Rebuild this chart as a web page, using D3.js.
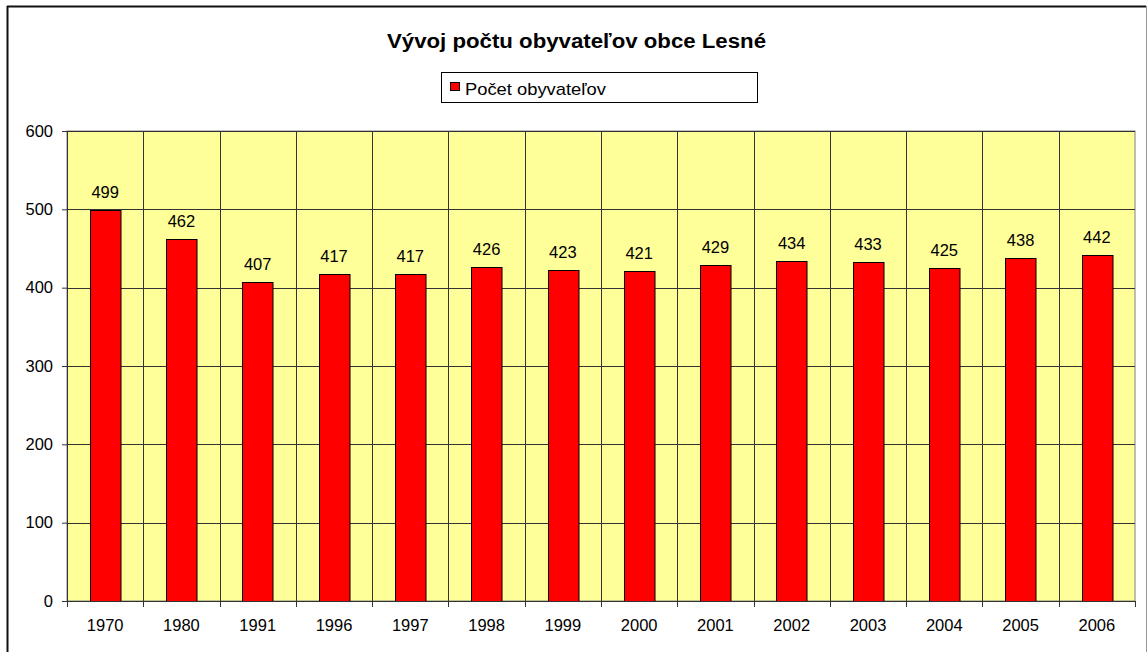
<!DOCTYPE html>
<html>
<head>
<meta charset="utf-8">
<script src="https://cdn.jsdelivr.net/npm/d3@7"></script>
<style>
  body { margin: 0; background: #fff; }
  text { font-family: "Liberation Sans", Arial, sans-serif; fill: #000; }
</style>
</head>
<body>
<div id="chart"></div>
<script>
var years = ["1970", "1980", "1991", "1996", "1997", "1998", "1999", "2000", "2001", "2002", "2003", "2004", "2005", "2006"];
var population = [499, 462, 407, 417, 417, 426, 423, 421, 429, 434, 433, 425, 438, 442];
var yTicks = [0, 100, 200, 300, 400, 500, 600];
var title = "Vývoj počtu obyvateľov obce Lesné";
var seriesName = "Počet obyvateľov";

var width = 1147, height = 652;
var plot = { left: 67, right: 1135, top: 131, bottom: 601 };

var svg = d3.select("#chart").append("svg")
    .attr("width", width)
    .attr("height", height);

// chart frame
svg.append("line").attr("x1", 7).attr("x2", 1146).attr("y1", 6.5).attr("y2", 6.5)
    .attr("stroke", "#111").attr("stroke-width", 2);
svg.append("line").attr("x1", 7.5).attr("x2", 7.5).attr("y1", 6).attr("y2", 652)
    .attr("stroke", "#111").attr("stroke-width", 2);
svg.append("line").attr("x1", 1146.5).attr("x2", 1146.5).attr("y1", 6).attr("y2", 652)
    .attr("stroke", "#999").attr("stroke-width", 1);

var x = d3.scaleBand()
    .domain(years)
    .range([plot.left, plot.right])
    .paddingInner(0.6)
    .paddingOuter(0.3);

var xCat = d3.scaleBand()
    .domain(years)
    .range([plot.left, plot.right]);

var y = d3.scaleLinear()
    .domain([0, 600])
    .range([plot.bottom, plot.top]);

// plot background
svg.append("rect")
    .attr("x", plot.left).attr("y", plot.top)
    .attr("width", plot.right - plot.left)
    .attr("height", plot.bottom - plot.top)
    .attr("fill", "#ffff99")
    .attr("stroke", "#808080");

// horizontal gridlines
svg.append("g").selectAll("line")
    .data(yTicks.slice(1))
    .join("line")
    .attr("x1", plot.left).attr("x2", plot.right)
    .attr("y1", d => Math.round(y(d)) + 0.5)
    .attr("y2", d => Math.round(y(d)) + 0.5)
    .attr("stroke", "#333");

// vertical gridlines between categories
svg.append("g").selectAll("line")
    .data(years.slice(1))
    .join("line")
    .attr("x1", d => Math.round(xCat(d)) + 0.5)
    .attr("x2", d => Math.round(xCat(d)) + 0.5)
    .attr("y1", plot.top).attr("y2", plot.bottom)
    .attr("stroke", "#333");

// bars
svg.append("g").selectAll("rect")
    .data(population)
    .join("rect")
    .attr("x", (d, i) => Math.round(x(years[i])) + 0.5)
    .attr("y", d => Math.round(y(d)) + 0.5)
    .attr("width", x.bandwidth())
    .attr("height", d => Math.round(y(0)) - Math.round(y(d)))
    .attr("fill", "#ff0000")
    .attr("stroke", "#000")
    .attr("stroke-width", 1);

// data labels
svg.append("g").selectAll("text")
    .data(population)
    .join("text")
    .attr("x", (d, i) => x(years[i]) + x.bandwidth() / 2)
    .attr("y", d => y(d) - 12)
    .attr("text-anchor", "middle")
    .style("font-size", "16.5px")
    .text(d => d);

// y axis
var yAxis = svg.append("g")
    .attr("transform", `translate(${plot.left},0)`)
    .call(d3.axisLeft(y).tickValues(yTicks).tickSize(5).tickPadding(9));
yAxis.select(".domain").attr("stroke", "#333");
yAxis.selectAll(".tick line").attr("stroke", "#333");
yAxis.selectAll("text").style("font-size", "16.5px").attr("fill", "#000");

// x axis: ticks at category boundaries
var xAxis = svg.append("g")
    .attr("transform", `translate(0,${plot.bottom})`)
    .call(d3.axisBottom(xCat).tickSize(0).tickPadding(18));
xAxis.select(".domain").attr("stroke", "#333");
xAxis.selectAll("text").style("font-size", "16.5px").attr("fill", "#000");
svg.append("g").selectAll("line")
    .data(years.concat(["end"]))
    .join("line")
    .attr("x1", (d, i) => Math.round(i < years.length ? xCat(d) : plot.right) + 0.5)
    .attr("x2", (d, i) => Math.round(i < years.length ? xCat(d) : plot.right) + 0.5)
    .attr("y1", plot.bottom).attr("y2", plot.bottom + 6)
    .attr("stroke", "#333");

// title
svg.append("text")
    .attr("x", 387).attr("y", 48)
    .attr("textLength", 379)
    .attr("lengthAdjust", "spacingAndGlyphs")
    .style("font-size", "20px")
    .style("font-weight", "bold")
    .text(title);

// legend
var legend = svg.append("g");
legend.append("rect")
    .attr("x", 441.5).attr("y", 72.5)
    .attr("width", 316).attr("height", 30)
    .attr("fill", "#fff").attr("stroke", "#000");
legend.append("rect")
    .attr("x", 450.5).attr("y", 82.5)
    .attr("width", 9).attr("height", 8)
    .attr("fill", "#ff0000").attr("stroke", "#000");
legend.append("text")
    .attr("x", 465).attr("y", 95)
    .attr("textLength", 141)
    .attr("lengthAdjust", "spacingAndGlyphs")
    .style("font-size", "17px")
    .text(seriesName);
</script>
</body>
</html>
